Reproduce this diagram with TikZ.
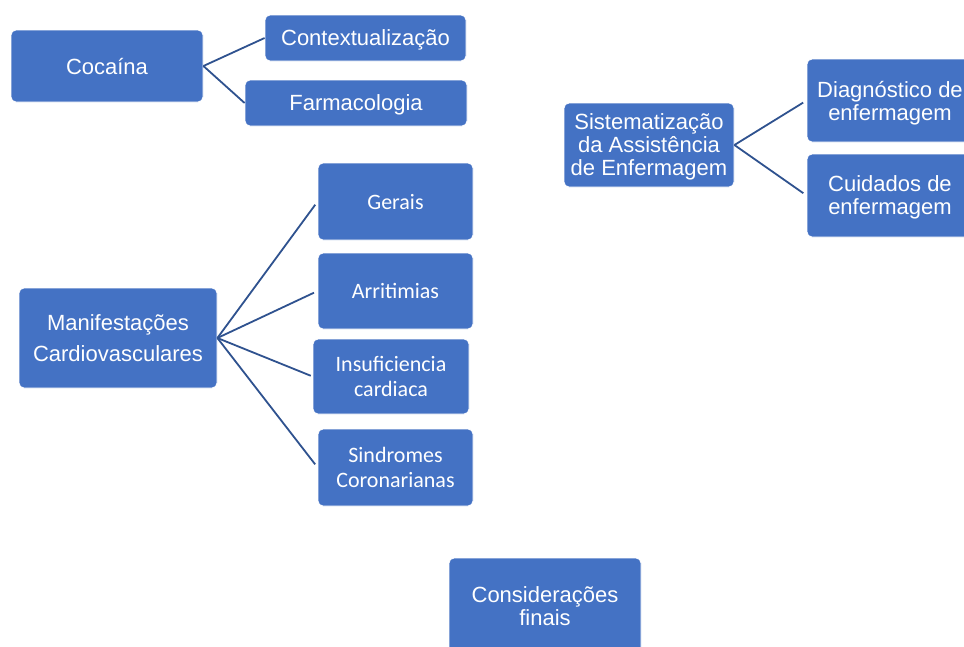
\documentclass[tikz,border=0pt]{standalone}
\usepackage{fontspec}
\setmainfont{Liberation Sans}
\newfontfamily\calibri{Carlito}
\definecolor{boxblue}{HTML}{4472C4}
\definecolor{linkblue}{HTML}{2F528F}
\begin{document}
\begin{tikzpicture}[x=1pt,y=-1pt,
  box/.style={draw=white,line width=0.8pt,fill=boxblue,rounded corners=5pt,text=white,
    align=center,inner sep=0pt,text depth=0pt,font=\fontsize{22}{23}\selectfont},
  cbox/.style={box,font=\calibri\fontsize{22}{24.5}\selectfont},
  link/.style={draw=linkblue,line width=1.8pt}]
\clip (0,0) rectangle (964,646);
\fill[white] (0,0) rectangle (964,646);
% Cocaína
\node[box,minimum width=192pt,minimum height=72pt] (coc) at (107,66) {Cocaína};
\node[box,minimum width=201pt,minimum height=46pt] (ctx) at (365.5,38) {Contextualização};
\node[box,minimum width=222pt,minimum height=46pt] (far) at (356,103) {Farmacologia};
\draw[link] (coc.east) -- (ctx.west);
\draw[link] (coc.east) -- (far.west);
% Sistematização
\node[box,minimum width=170pt,minimum height=84pt] (sis) at (649,145) {Sistematização\\da Assistência\\de Enfermagem};
\node[box,minimum width=166pt,minimum height=83pt] (dia) at (890,100.5) {Diagnóstico de\\enfermagem};
\node[box,minimum width=166pt,minimum height=83pt] (cui) at (890,195.5) {Cuidados de\\enfermagem};
\draw[link,shorten >=4pt] (sis.east) -- (dia.west);
\draw[link,shorten >=4pt] (sis.east) -- (cui.west);
% Manifestações
\node[box,minimum width=198pt,minimum height=100pt,font=\fontsize{22}{31.5}\selectfont] (man) at (118,338) {Manifestações\\Cardiovasculares};
\node[cbox,minimum width=155pt,minimum height=77pt] (ger) at (395.5,201.5) {Gerais};
\node[cbox,minimum width=155pt,minimum height=76pt] (arr) at (395.5,291) {Arritimias};
\node[cbox,minimum width=156pt,minimum height=75pt] (ins) at (391,376.5) {Insuficiencia\\cardiaca};
\node[cbox,minimum width=155pt,minimum height=77pt] (sin) at (395.5,467.5) {Sindromes\\Coronarianas};
\draw[link,shorten >=4pt] (man.east) -- (ger.west);
\draw[link,shorten >=4pt] (man.east) -- (arr.west);
\draw[link,shorten >=2pt] (man.east) -- (ins.west);
\draw[link,shorten >=4pt] (man.east) -- (sin.west);
% Considerações finais
\node[box,minimum width=192pt,minimum height=96pt] (con) at (545,606) {Considerações\\finais};
\end{tikzpicture}
\end{document}
